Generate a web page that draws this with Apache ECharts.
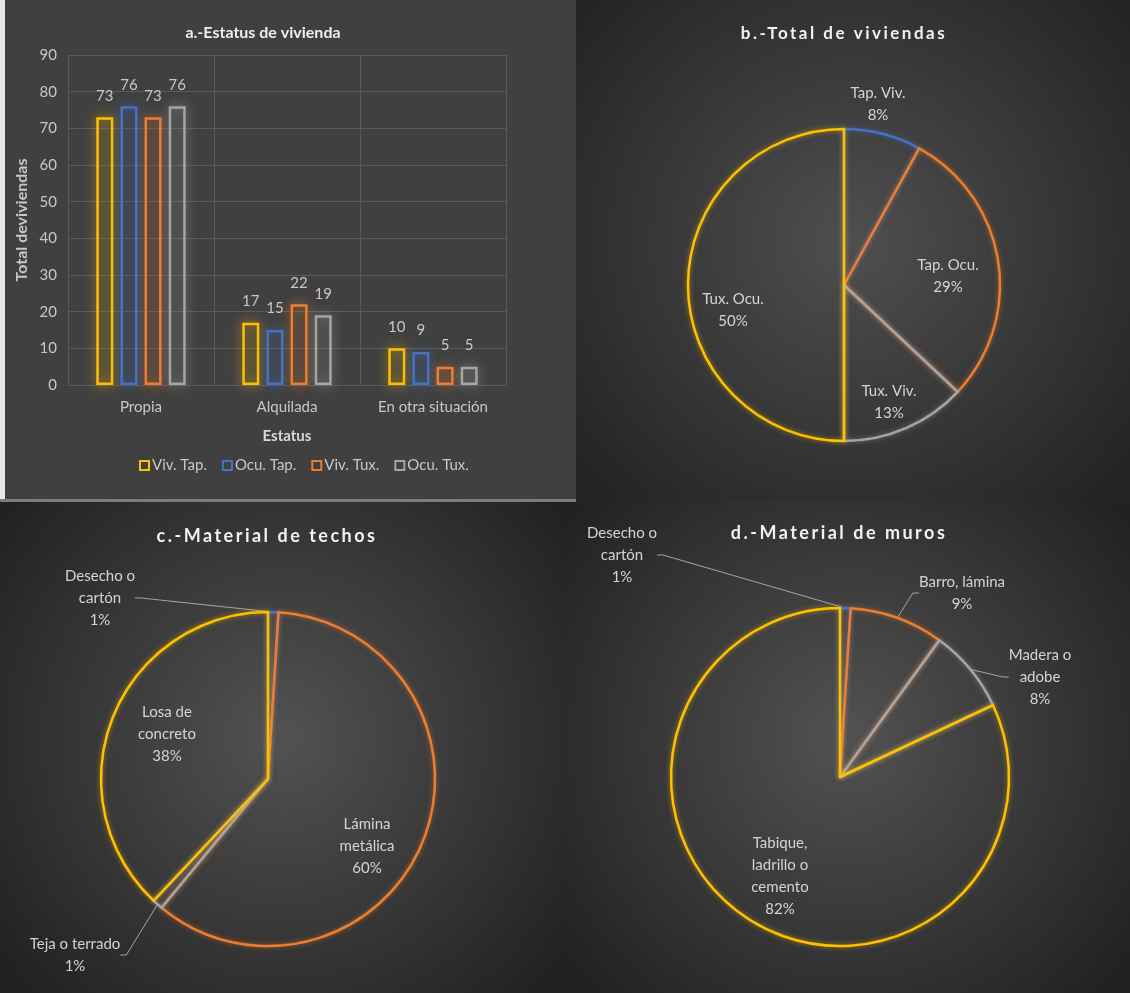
<!DOCTYPE html>
<html>
<head>
<meta charset="utf-8">
<script src="https://cdn.jsdelivr.net/npm/echarts@6/dist/echarts.min.js"></script>
<style>
  html, body { margin: 0; padding: 0; background: #262626; }
  #chart { width: 1130px; height: 993px; }
</style>
</head>
<body>
<div id="chart"></div>
<script>
// a. Housing status per locality
const statusCats = ['Propia', 'Alquilada', 'En otra situación'];
const barNames = ['Viv. Tap.', 'Ocu. Tap.', 'Viv. Tux.', 'Ocu. Tux.'];
const vivTap = [73, 17, 10];
const ocuTap = [76, 15, 9];
const vivTux = [73, 22, 5];
const ocuTux = [76, 19, 5];
const yMax = 90;
const yStep = 10;

// b. Total of dwellings (percent)
const totalNames = ['Tap. Viv.', 'Tap. Ocu.', 'Tux. Viv.', 'Tux. Ocu.'];
const totalValues = [8, 29, 13, 50];

// c. Roof material (percent)
const roofNames = ['Desecho o\ncartón', 'Lámina\nmetálica', 'Teja o terrado', 'Losa de\nconcreto'];
const roofValues = [1, 60, 1, 38];

// d. Wall material (percent)
const wallNames = ['Desecho o\ncartón', 'Barro, lámina', 'Madera o\nadobe', 'Tabique,\nladrillo o\ncemento'];
const wallValues = [1, 9, 8, 82];

const FONT = 'Lato, "Open Sans", sans-serif';
const barColors = ['#FFC000', '#4472C4', '#ED7D31', '#A5A5A5'];
const pieColors = ['#4472C4', '#ED7D31', '#A5A5A5', '#FFC000'];
const textGray = '#c8c8c8';

function alpha(hex, a) {
  const n = parseInt(hex.slice(1), 16);
  return `rgba(${(n >> 16) & 255},${(n >> 8) & 255},${n & 255},${a})`;
}

function barSeries(name, values, i) {
  return {
    type: 'bar',
    name,
    data: values,
    barWidth: 17,
    barGap: '42%',
    silent: true,
    itemStyle: {
      color: 'rgba(0,0,0,0)',
      borderColor: barColors[i],
      borderWidth: 2.5,
      shadowBlur: 11,
      shadowColor: alpha(barColors[i], 0.9)
    },
    label: {
      show: true,
      position: 'top',
      distance: 14,
      color: textGray,
      fontFamily: FONT,
      fontSize: 15
    }
  };
}

// label centres given as offsets from each pie centre
function pieSeries(names, values, center, radius, spots) {
  return {
    type: 'pie',
    center,
    radius,
    startAngle: 90,
    clockwise: true,
    avoidLabelOverlap: false,
    silent: true,
    data: names.map((n, i) => ({
      name: n,
      value: values[i],
      itemStyle: {
        color: 'rgba(0,0,0,0)',
        borderColor: pieColors[i],
        borderWidth: 2.5,
        shadowBlur: 5,
        shadowColor: alpha(pieColors[i], 0.6)
      },
      label: { position: spots[i].out ? 'outside' : 'inside' },
      labelLine: { show: !!spots[i].out }
    })),
    label: {
      color: '#d4d4d4',
      fontFamily: FONT,
      fontSize: 15,
      lineHeight: 22,
      align: 'center',
      formatter: p => p.name + '\n' + Math.round(p.percent) + '%'
    },
    labelLine: {
      length: 10,
      length2: 6,
      lineStyle: { color: '#a6a6a6', width: 1 }
    },
    labelLayout: p => {
      const s = spots[p.dataIndex];
      return { x: center[0] + s.dx, y: center[1] + s.dy, align: 'center', verticalAlign: 'middle' };
    }
  };
}

const radial = (c0, c1) => ({
  type: 'radial', x: 0.5, y: 0.48, r: 0.72,
  colorStops: [{ offset: 0, color: c0 }, { offset: 1, color: c1 }]
});

const pieTitleStyle = size => ({ color: '#f2f2f2', fontFamily: FONT, fontWeight: 'bold', fontSize: size });

const option = {
  backgroundColor: '#262626',
  animation: false,
  graphic: {
    elements: [
      { type: 'rect', z: -10, silent: true, shape: { x: 576, y: 0, width: 554, height: 501 }, style: { fill: radial('#4f4f4f', '#232323') } },
      { type: 'rect', z: -10, silent: true, shape: { x: 0, y: 501, width: 565, height: 492 }, style: { fill: radial('#525252', '#222222') } },
      { type: 'rect', z: -10, silent: true, shape: { x: 565, y: 501, width: 565, height: 492 }, style: { fill: radial('#525252', '#222222') } },
      { type: 'rect', z: -10, silent: true, shape: { x: 0, y: 0, width: 576, height: 500 }, style: { fill: '#404040' } },
      { type: 'rect', z: -9, silent: true, shape: { x: 0, y: 0, width: 5, height: 500 }, style: { fill: '#e6e6e6' } },
      { type: 'rect', z: -9, silent: true, shape: { x: 0, y: 499, width: 576, height: 3 }, style: { fill: '#7c7c7c' } }
    ]
  },
  title: [
    { text: 'a.-Estatus de vivienda', left: 258, top: 20, textAlign: 'center',
      textStyle: { color: '#eeeeee', fontFamily: FONT, fontWeight: 'bold', fontSize: 16 } },
    // spaced-out headings live on their own canvas layer
    { text: 'b.-Total de viviendas', left: 839, top: 20, textAlign: 'center', zlevel: 1,
      textStyle: pieTitleStyle(17) },
    { text: 'c.-Material de techos', left: 262, top: 522, textAlign: 'center', zlevel: 1,
      textStyle: pieTitleStyle(18) },
    { text: 'd.-Material de muros', left: 834, top: 519, textAlign: 'center', zlevel: 1,
      textStyle: pieTitleStyle(18) }
  ],
  legend: {
    data: barNames,
    left: 134,
    top: 453,
    itemWidth: 9,
    itemHeight: 9,
    itemGap: 15,
    icon: 'rect',
    selectedMode: false,
    textStyle: { color: textGray, fontFamily: FONT, fontSize: 15, padding: [0, 0, 0, -2] }
  },
  grid: { left: 68, top: 55, width: 438, height: 330 },
  xAxis: {
    type: 'category',
    data: statusCats,
    axisLine: { show: true, lineStyle: { color: '#5a5a5a' } },
    axisTick: { show: false },
    splitLine: { show: true, lineStyle: { color: '#5a5a5a', width: 1 } },
    axisLabel: { color: textGray, fontFamily: FONT, fontSize: 15, margin: 15 },
    name: 'Estatus',
    nameLocation: 'middle',
    nameGap: 44,
    nameTextStyle: { color: '#d9d9d9', fontFamily: FONT, fontWeight: 'bold', fontSize: 15 }
  },
  yAxis: {
    type: 'value',
    min: 0,
    max: yMax,
    interval: yStep,
    axisLine: { show: false },
    axisTick: { show: false },
    splitLine: { show: true, lineStyle: { color: '#5a5a5a', width: 1 } },
    axisLabel: { color: textGray, fontFamily: FONT, fontSize: 15, margin: 11 },
    name: 'Total deviviendas',
    nameLocation: 'middle',
    nameGap: 38,
    nameTextStyle: { color: '#c8c8c8', fontFamily: FONT, fontWeight: 'bold', fontSize: 16 }
  },
  series: [
    barSeries(barNames[0], vivTap, 0),
    barSeries(barNames[1], ocuTap, 1),
    barSeries(barNames[2], vivTux, 2),
    barSeries(barNames[3], ocuTux, 3),
    pieSeries(totalNames, totalValues, [844, 285], 156, [
      { dx: 34, dy: -181 }, { dx: 104, dy: -9 }, { dx: 45, dy: 117 }, { dx: -111, dy: 25 }
    ]),
    pieSeries(roofNames, roofValues, [268, 779], 167, [
      { dx: -168, dy: -181, out: true }, { dx: 99, dy: 67 }, { dx: -193, dy: 176, out: true }, { dx: -101, dy: -45 }
    ]),
    pieSeries(wallNames, wallValues, [840, 777], 169, [
      { dx: -218, dy: -222, out: true }, { dx: 122, dy: -184, out: true }, { dx: 200, dy: -100, out: true }, { dx: -60, dy: 99 }
    ])
  ]
};

const chart = echarts.init(document.getElementById('chart'), null, { renderer: 'canvas' });
// letter spacing for the pie headings, applied to their layer's context
const headingLayer = chart.getZr().painter.getLayer && chart.getZr().painter.getLayer(1);
if (headingLayer && headingLayer.ctx) {
  headingLayer.ctx.letterSpacing = '2.5px';
}
chart.setOption(option);
</script>
</body>
</html>
